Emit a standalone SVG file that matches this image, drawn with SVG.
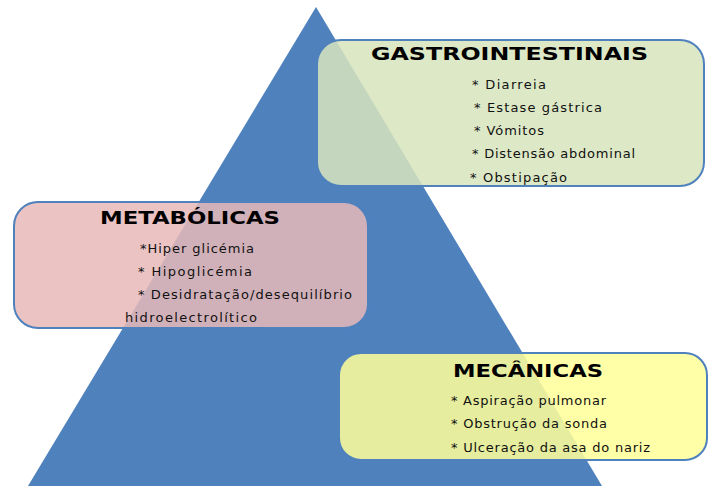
<svg xmlns="http://www.w3.org/2000/svg" width="709" height="486" viewBox="0 0 709 486">
<style>
.box{stroke:#4F81BD;stroke-width:2;fill-opacity:0.86}
.title{font-family:"DejaVu Sans","Liberation Sans",sans-serif;font-weight:bold;font-size:18px;fill:#000}
.item{font-family:"DejaVu Sans","Liberation Sans",sans-serif;font-size:13px;fill:#111}
</style>
<rect width="709" height="486" fill="#fff"/>
<g id="pyramid">
<polygon points="316,7 602,486 28,486" fill="#4F81BD"/>
</g>
<g id="connectors"/>
<g id="gastro">
<rect class="box" x="317" y="40" width="387" height="146" rx="24" fill="#D7E4BD"/>
<text class="title" x="371" y="60" textLength="277" lengthAdjust="spacingAndGlyphs">GASTROINTESTINAIS</text>
<text class="item" x="472" y="89" textLength="74">* Diarreia</text>
<text class="item" x="474" y="112" textLength="128">* Estase gástrica</text>
<text class="item" x="474" y="135" textLength="70">* Vómitos</text>
<text class="item" x="472" y="158" textLength="163">* Distensão abdominal</text>
<text class="item" x="470" y="182" textLength="97">* Obstipação</text>
</g>
<g id="metabolicas">
<rect class="box" x="14" y="202" width="354" height="126" rx="24" fill="#E6B9B8"/>
<text class="title" x="100" y="224" textLength="180" lengthAdjust="spacingAndGlyphs">METABÓLICAS</text>
<text class="item" x="140" y="253" textLength="114">*Hiper glicémia</text>
<text class="item" x="138" y="276" textLength="114">* Hipoglicémia</text>
<text class="item" x="138" y="299" textLength="214">* Desidratação/desequilíbrio</text>
<text class="item" x="125" y="322" textLength="132">hidroelectrolítico</text>
</g>
<g id="mecanicas">
<rect class="box" x="339" y="353" width="368" height="107" rx="22" fill="#FFFF99"/>
<text class="title" x="453" y="377" textLength="150" lengthAdjust="spacingAndGlyphs">MECÂNICAS</text>
<text class="item" x="451" y="405" textLength="155">* Aspiração pulmonar</text>
<text class="item" x="451" y="428" textLength="156">* Obstrução da sonda</text>
<text class="item" x="451" y="452" textLength="199">* Ulceração da asa do nariz</text>
</g>
</svg>
